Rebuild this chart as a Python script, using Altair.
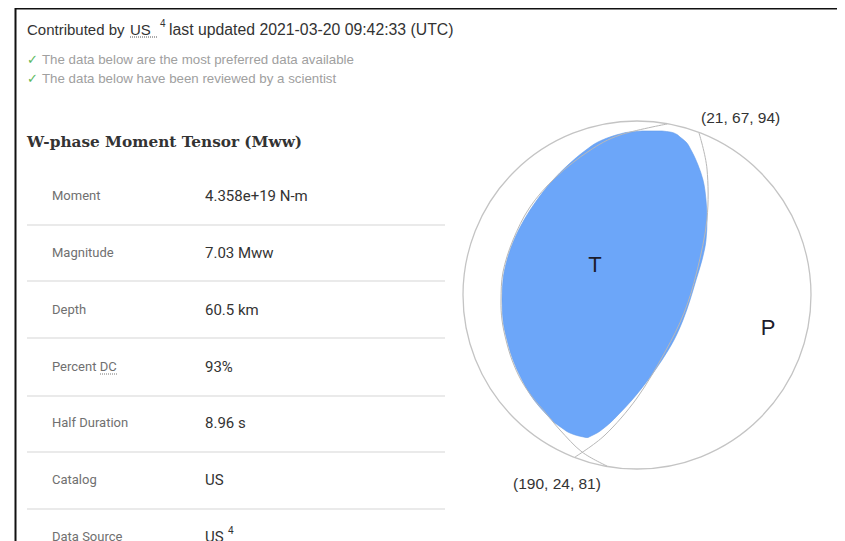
import altair as alt
import pandas as pd

# ---------------- data ----------------
header_parts = ["Contributed by", "US", "last updated 2021-03-20 09:42:33 (UTC)"]
header_x = [27, 130, 169]
header_size = [15, 15, 15.8]
checks = ["The data below are the most preferred data available",
          "The data below have been reviewed by a scientist"]
check_y = [60, 79]
heading = "W-phase Moment Tensor (Mww)"

row_labels = ["Moment", "Magnitude", "Depth", "Percent DC", "Half Duration", "Catalog", "Data Source"]
row_values = ["4.358e+19 N-m", "7.03 Mww", "60.5 km", "93%", "8.96 s", "US", "US"]
row_y = [196, 253, 310, 367, 423, 480, 537]
sep_y = [225, 281, 338, 396, 452, 509]

# beachball
ball_center = (637, 295)
ball_diam = 348
# T (blue) region, horizontal slices: y, left x, right x
area_y = [131, 132, 134, 137, 142, 150, 165, 180, 200, 220, 240, 260, 280, 300, 320, 340, 360, 380,
          400, 415, 423, 428, 433, 436, 437.5]
area_xl = [642, 630, 620, 610, 598, 586, 568, 553, 537, 524, 514, 507, 503, 502, 503, 507, 513, 522,
           534, 547, 555, 562, 570, 579, 586]
area_xr = [662, 670, 676, 680, 686, 691, 698, 703, 706, 707, 706, 702, 696, 690, 683, 674, 662, 648,
           632, 618, 610, 604, 597, 591, 588]
# nodal plane (21, 67, 94)
p1_x = [699, 707, 707, 697, 684, 665, 637, 605, 575]
p1_y = [133, 169, 219, 271, 313, 352, 398, 435, 457]
# nodal plane (190, 24, 81)
p2_x = [607, 582, 560, 545, 533, 521, 512, 506, 502, 501, 503, 513, 530, 556, 589, 620, 667]
p2_y = [466, 452, 430, 412, 398, 380, 360, 340, 320, 300, 272, 240, 207, 177, 151, 135, 124]
plane_labels = ["(21, 67, 94)", "(190, 24, 81)"]
plane_label_x = [701, 513]
plane_label_y = [118, 484]
axis_labels = ["T", "P"]
axis_label_x = [595, 768]
axis_label_y = [265, 328]

# ---------------- scales ----------------
XS = alt.Scale(domain=[8, 837])
YS = alt.Scale(domain=[8, 541], reverse=True)


def X(f="x"):
    return alt.X(f"{f}:Q", scale=XS, axis=None)


def Y(f="y"):
    return alt.Y(f"{f}:Q", scale=YS, axis=None)


def text_layer(df, font, size, color, weight="normal", align="left"):
    return alt.Chart(df).mark_text(font=font, fontSize=size, color=color, fontWeight=weight,
                                   align=align, baseline="middle").encode(
        x=X(), y=Y(), text="t:N")


layers = []

# frame borders
layers.append(alt.Chart(pd.DataFrame({"x": [15], "x2": [837], "y": [8.5]})).mark_rule(
    color="#111", strokeWidth=2).encode(x=X(), x2="x2:Q", y=Y()))
layers.append(alt.Chart(pd.DataFrame({"x": [15.5], "y": [8], "y2": [541]})).mark_rule(
    color="#111", strokeWidth=2).encode(x=X(), y=Y(), y2="y2:Q"))

# header
for hx, ht, hs in zip(header_x, header_parts, header_size):
    layers.append(text_layer(pd.DataFrame({"x": [hx], "y": [30], "t": [ht]}),
                             "Liberation Sans", hs, "#333"))
layers.append(text_layer(pd.DataFrame({"x": [160], "y": [24], "t": ["4"]}),
                         "Liberation Sans", 10, "#333"))
layers.append(alt.Chart(pd.DataFrame({"x": [130], "x2": [157], "y": [37]})).mark_rule(
    color="#555", strokeWidth=1, strokeDash=[1, 1]).encode(x=X(), x2="x2:Q", y=Y()))

# check lines
layers.append(text_layer(pd.DataFrame({"x": [27, 27], "y": check_y, "t": ["✓", "✓"]}),
                         "DejaVu Sans", 13, "#5cb85c"))
layers.append(text_layer(pd.DataFrame({"x": [42, 42], "y": check_y, "t": checks}),
                         "Liberation Sans", 13.3, "#a0a0a0"))

# heading
layers.append(text_layer(pd.DataFrame({"x": [27], "y": [142], "t": [heading]}),
                         "DejaVu Serif", 15.3, "#333", weight="bold"))

# table
layers.append(alt.Chart(pd.DataFrame({"x": [27] * len(sep_y), "x2": [445] * len(sep_y), "y": sep_y})).mark_rule(
    color="#e3e3e3", strokeWidth=1.5).encode(x=X(), x2="x2:Q", y=Y()))
layers.append(text_layer(pd.DataFrame({"x": [52] * len(row_labels), "y": row_y, "t": row_labels}),
                         "Roboto", 13, "#707070"))
layers.append(text_layer(pd.DataFrame({"x": [205] * len(row_values), "y": row_y, "t": row_values}),
                         "Roboto", 15, "#333"))
layers.append(text_layer(pd.DataFrame({"x": [228], "y": [531], "t": ["4"]}),
                         "Roboto", 10, "#333"))
layers.append(alt.Chart(pd.DataFrame({"x": [100], "x2": [117], "y": [374]})).mark_rule(
    color="#777", strokeWidth=1, strokeDash=[1, 1]).encode(x=X(), x2="x2:Q", y=Y()))

# beachball: blue region
area_df = pd.DataFrame({"y": area_y, "xl": area_xl, "xr": area_xr})
layers.append(alt.Chart(area_df).mark_area(orient="horizontal", interpolate="monotone",
                                           color="#6ca6f9", stroke="#639be8", strokeWidth=0.6).encode(
    y=Y(), x=X("xl"), x2="xr:Q"))

# outer circle
layers.append(alt.Chart(pd.DataFrame({"x": [ball_center[0]], "y": [ball_center[1]]})).mark_point(
    shape="circle", filled=False, color="#c4c4c4", strokeWidth=1.3, opacity=1).encode(
    x=X(), y=Y(), size=alt.value(ball_diam ** 2)))

# nodal planes
p1 = pd.DataFrame({"x": p1_x, "y": p1_y, "i": range(len(p1_x))})
p2 = pd.DataFrame({"x": p2_x, "y": p2_y, "i": range(len(p2_x))})
for df in (p1, p2):
    layers.append(alt.Chart(df).mark_line(interpolate="cardinal", color="#b8b8b8", strokeWidth=1).encode(
        x=X(), y=Y(), order="i:Q"))

# labels
layers.append(text_layer(pd.DataFrame({"x": plane_label_x, "y": plane_label_y, "t": plane_labels}),
                         "Liberation Sans", 15.5, "#333"))
layers.append(text_layer(pd.DataFrame({"x": axis_label_x, "y": axis_label_y, "t": axis_labels}),
                         "Liberation Sans", 22, "#1c1c2c", align="center"))

chart = alt.layer(*layers).properties(width=829, height=533, padding=0,
                                      autosize=alt.AutoSizeParams(type="none")).configure_view(stroke=None)

chart.save("out.html", embed_options={"renderer": "svg", "actions": False})
